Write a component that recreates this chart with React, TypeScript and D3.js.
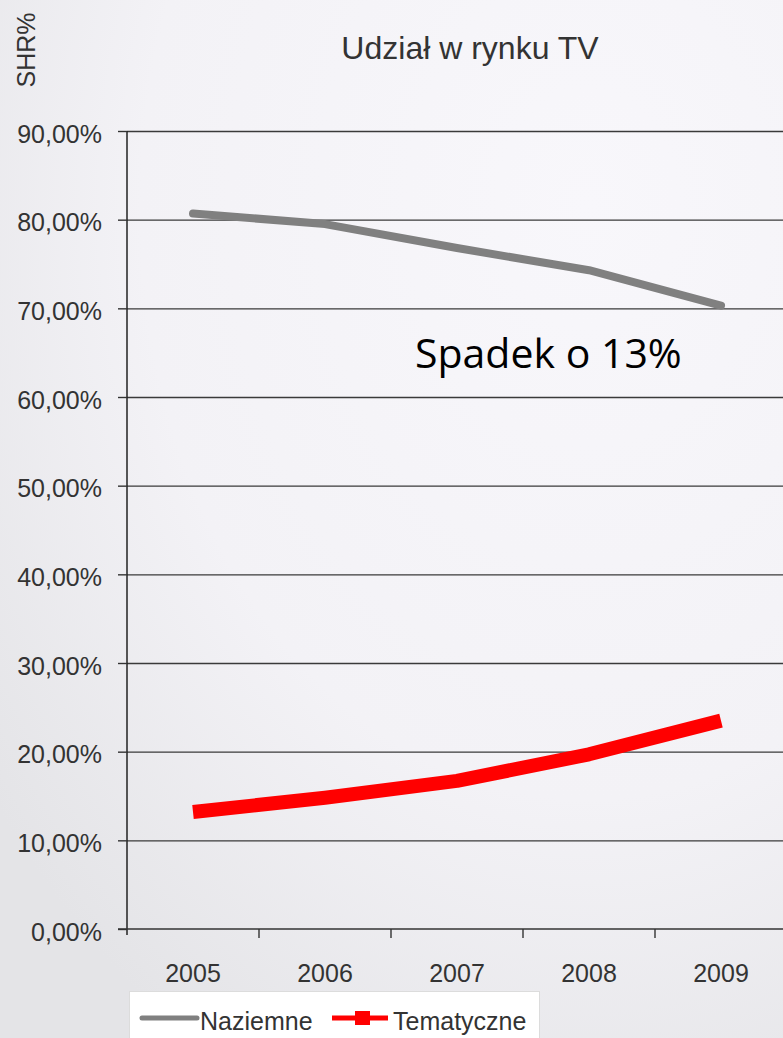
import React, { useEffect, useRef } from 'react';
import * as d3 from 'd3';

const years = ['2005', '2006', '2007', '2008', '2009'];
const naziemne = [0.807, 0.795, 0.768, 0.743, 0.703];
const tematyczne = [0.132, 0.148, 0.167, 0.197, 0.235];
const yTicks = [0, 0.1, 0.2, 0.3, 0.4, 0.5, 0.6, 0.7, 0.8, 0.9];

const W = 783, H = 1038;
const FONT = '"Liberation Sans", Arial, sans-serif';

const App: React.FC = () => {
  const ref = useRef<SVGSVGElement>(null);

  useEffect(() => {
    const svg = d3.select(ref.current);
    svg.selectAll('*').remove();

    const left = 127, right = 787, top = 131, bottom = 929;

    // background
    const defs = svg.append('defs');
    const grad = defs.append('radialGradient')
      .attr('id', 'bg')
      .attr('cx', '75%').attr('cy', '20%').attr('r', '95%');
    grad.append('stop').attr('offset', '0%').attr('stop-color', '#f8f7fb');
    grad.append('stop').attr('offset', '60%').attr('stop-color', '#f3f2f6');
    grad.append('stop').attr('offset', '100%').attr('stop-color', '#e4e4e7');
    svg.append('rect').attr('width', W).attr('height', H).attr('fill', 'url(#bg)');

    const x = d3.scaleBand().domain(years).range([left, right]);
    const y = d3.scaleLinear().domain([0, 0.9]).range([bottom, top]);

    // gridlines
    svg.append('g')
      .attr('transform', `translate(${left},0)`)
      .call(d3.axisLeft(y).tickValues(yTicks.slice(1)).tickSize(-(right - left)).tickFormat(() => ''))
      .call(g => g.select('.domain').remove())
      .call(g => g.selectAll('.tick line').attr('stroke', '#3a3a3a').attr('stroke-width', 1.4));

    // y axis
    svg.append('g')
      .attr('transform', `translate(${left},0)`)
      .call(d3.axisLeft(y).tickValues(yTicks).tickSize(9).tickPadding(16)
        .tickFormat(d => (d as number * 100).toFixed(2).replace('.', ',') + '%'))
      .call(g => g.select('.domain').attr('d', `M0,${top}V${bottom + 6}`).attr('stroke', '#222').attr('stroke-width', 1.5))
      .call(g => g.selectAll('.tick line').attr('stroke', '#333').attr('stroke-width', 1.4))
      .call(g => g.selectAll('.tick text').attr('font-family', FONT).attr('font-size', 25).attr('fill', '#333').attr('dy', '0.45em'));

    // x axis
    svg.append('line')
      .attr('x1', left - 9).attr('x2', right).attr('y1', bottom).attr('y2', bottom)
      .attr('stroke', '#333').attr('stroke-width', 1.5);
    svg.append('g').selectAll('line')
      .data(years.slice(1))
      .join('line')
      .attr('x1', d => x(d)!).attr('x2', d => x(d)!)
      .attr('y1', bottom).attr('y2', bottom + 9)
      .attr('stroke', '#333').attr('stroke-width', 1.4);
    svg.append('g').selectAll('text')
      .data(years)
      .join('text')
      .attr('x', d => x(d)! + x.bandwidth() / 2)
      .attr('y', 982)
      .attr('text-anchor', 'middle')
      .attr('font-family', FONT).attr('font-size', 25).attr('fill', '#333')
      .text(d => d);

    const line = d3.line<number>()
      .x((_, i) => x(years[i])! + x.bandwidth() / 2)
      .y(d => y(d));

    svg.append('path').datum(naziemne)
      .attr('d', line)
      .attr('fill', 'none').attr('stroke', '#808080').attr('stroke-width', 8)
      .attr('stroke-linecap', 'round').attr('stroke-linejoin', 'round');

    svg.append('path').datum(tematyczne)
      .attr('d', line)
      .attr('fill', 'none').attr('stroke', '#ff0000').attr('stroke-width', 14)
      .attr('stroke-linecap', 'butt').attr('stroke-linejoin', 'round');

    // titles
    svg.append('text')
      .attr('x', 470).attr('y', 59).attr('text-anchor', 'middle')
      .attr('font-family', FONT).attr('font-size', 32).attr('fill', '#333')
      .text('Udział w rynku TV');

    svg.append('text')
      .attr('transform', 'translate(35,50) rotate(-90)')
      .attr('text-anchor', 'middle')
      .attr('font-family', FONT).attr('font-size', 25).attr('fill', '#333')
      .text('SHR%');

    svg.append('text')
      .attr('x', 415).attr('y', 368)
      .attr('font-family', '"Open Sans", sans-serif').attr('font-size', 41).attr('fill', '#000')
      .text('Spadek o 13%');

    // legend
    const lg = svg.append('g');
    lg.append('rect')
      .attr('x', 129.5).attr('y', 991.5).attr('width', 410).attr('height', 60)
      .attr('fill', '#fff').attr('stroke', '#dcdcdc');
    lg.append('line')
      .attr('x1', 142).attr('x2', 197).attr('y1', 1018).attr('y2', 1018)
      .attr('stroke', '#808080').attr('stroke-width', 5).attr('stroke-linecap', 'round');
    lg.append('text')
      .attr('x', 200).attr('y', 1030)
      .attr('font-family', FONT).attr('font-size', 25).attr('fill', '#333')
      .text('Naziemne');
    lg.append('line')
      .attr('x1', 332).attr('x2', 388).attr('y1', 1018).attr('y2', 1018)
      .attr('stroke', '#ff0000').attr('stroke-width', 5);
    lg.append('rect')
      .attr('x', 355).attr('y', 1011).attr('width', 15).attr('height', 14)
      .attr('fill', '#ff0000');
    lg.append('text')
      .attr('x', 393).attr('y', 1030)
      .attr('font-family', FONT).attr('font-size', 25).attr('fill', '#333')
      .text('Tematyczne');
  }, []);

  return (
    <svg
      ref={ref}
      width={W}
      height={H}
      style={{ position: 'absolute', left: 0, top: 0, display: 'block' }}
    />
  );
};

export default App;
